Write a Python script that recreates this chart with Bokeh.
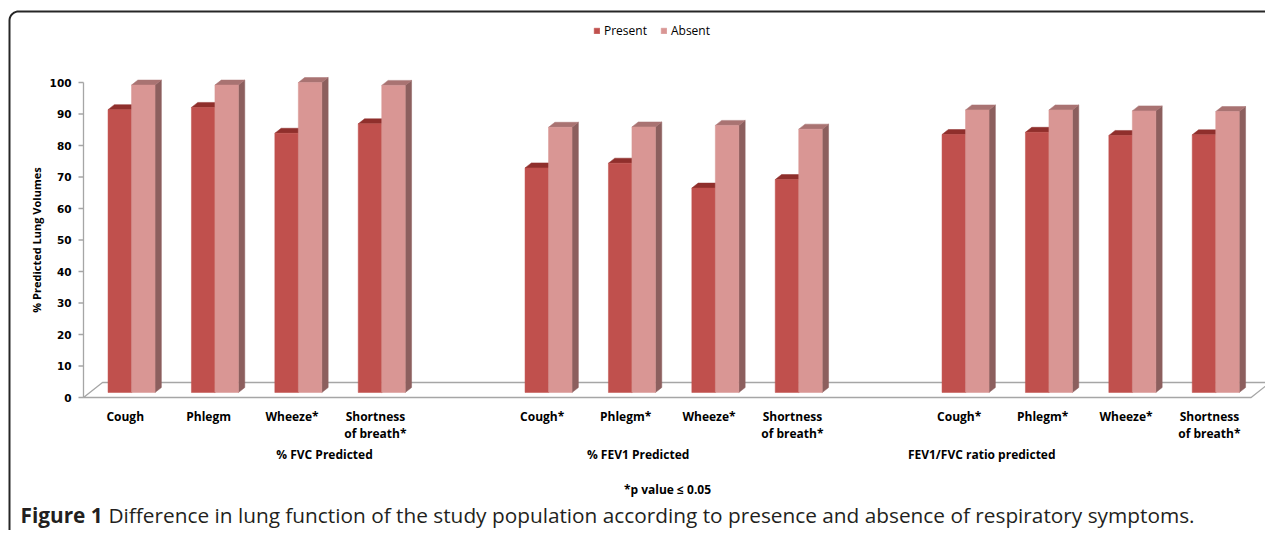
import numpy as np
from bokeh.plotting import figure
from bokeh.models import (Range1d, Legend, LegendItem, ColumnDataSource)
from bokeh.embed import file_html
from bokeh.resources import INLINE
from bokeh.core.properties import value

# ---------------- data ----------------
groups = ["% FVC Predicted", "% FEV1 Predicted", "FEV1/FVC ratio predicted"]
tick_labels = [
    ["Cough", "Phlegm", "Wheeze*", "Shortness\nof breath*"],
    ["Cough*", "Phlegm*", "Wheeze*", "Shortness\nof breath*"],
    ["Cough*", "Phlegm*", "Wheeze*", "Shortness\nof breath*"],
]
present_fvc = [89.8, 90.5, 82.3, 85.3]
absent_fvc = [97.6, 97.6, 98.4, 97.5]
present_fev1 = [71.3, 72.8, 64.9, 67.6]
absent_fev1 = [84.2, 84.3, 84.8, 83.6]
present_ratio = [81.9, 82.6, 81.6, 81.8]
absent_ratio = [89.7, 89.7, 89.4, 89.2]
y_ticks = [0, 10, 20, 30, 40, 50, 60, 70, 80, 90, 100]
y_title = "% Predicted Lung Volumes"
footnote = "*p value \u2264 0.05"
caption_bold = "Figure 1"
caption_rest = ("Difference in lung function of the study population according to "
                "presence and absence of respiratory symptoms.")

present = [present_fvc, present_fev1, present_ratio]
absent = [absent_fvc, absent_fev1, absent_ratio]

# ---------------- layout / geometry (styling) ----------------
W, H = 1265, 530
PX_X = 83.4            # pixels per category slot
PX_Y = 3.15            # pixels per value unit
AX_PX = 83             # pixel column of the value axis
ZERO_PX = 397          # pixel row of value 0
FD_X = 19 / PX_X       # floor depth, x shift
FD_Y = 15 / PX_Y       # floor depth, y shift
BW = 23.5 / PX_X       # bar width
DX, DY = FD_X / 3, FD_Y / 3
N_SLOTS = 14
x_start = -0.5 - AX_PX / PX_X
y_top = ZERO_PX / PX_Y


def px_x(px):
    return x_start + px / PX_X


def px_y(py):
    return y_top - py / PX_Y


p = figure(width=W, height=H, output_backend="svg", toolbar_location=None,
           x_range=Range1d(x_start, x_start + W / PX_X),
           y_range=Range1d(y_top - H / PX_Y, y_top),
           x_axis_location=None, y_axis_location=None,
           min_border_left=0, min_border_right=0,
           min_border_top=0, min_border_bottom=0)
p.xgrid.visible = False
p.ygrid.visible = False
p.outline_line_color = None
p.background_fill_color = "white"
p.border_fill_color = "white"

GRAY = "#A6A6A6"
x_ax = px_x(AX_PX)

# floor
fx = [x_ax, x_ax + N_SLOTS, x_ax + N_SLOTS + FD_X, x_ax + FD_X]
fy = [0, 0, FD_Y, FD_Y]
p.patch(fx + [fx[0]], fy + [fy[0]], fill_color=None, line_color=GRAY, line_width=1.3)

# value axis
p.segment(x0=[x_ax], y0=[0], x1=[x_ax], y1=[max(y_ticks)], line_color=GRAY, line_width=1.3)
p.segment(x0=[px_x(AX_PX - 5)] * len(y_ticks), y0=y_ticks,
          x1=[x_ax] * len(y_ticks), y1=y_ticks, line_color=GRAY, line_width=1.3)
p.text(x=[px_x(AX_PX - 12)] * len(y_ticks), y=y_ticks, text=[str(t) for t in y_ticks],
       text_align="right", text_baseline="middle", text_font=value("DejaVu Sans"),
       text_font_style="bold", text_font_size="10.5px", text_color="#000000")
p.text(x=[px_x(36)], y=[(min(y_ticks) + max(y_ticks)) / 2], text=[y_title], angle=np.pi / 2,
       text_align="center", text_baseline="middle", text_font=value("Open Sans"),
       text_font_style="bold", text_font_size="11px", text_color="#000000")

# bars
slots, p_vals, a_vals, lab1, lab2 = [], [], [], [], []
for g in range(3):
    for k in range(4):
        s = g * 5 + k
        slots.append(s)
        p_vals.append(present[g][k])
        a_vals.append(absent[g][k])
        parts = tick_labels[g][k].split("\n")
        lab1.append(parts[0])
        lab2.append(parts[1] if len(parts) > 1 else "")

renderers = {}
for name, vals, off, cf, ct, cs in [
        ("Present", p_vals, -BW, "#C0504D", "#8F2F2C", "#8F2F2C"),
        ("Absent", a_vals, 0.0, "#D99694", "#A97372", "#8C5F5E")]:
    lefts = [s + off + DX for s in slots]
    rights = [l + BW for l in lefts]
    tops = [DY + v for v in vals]
    txs, tys, sxs, sys_ = [], [], [], []
    for l, r, t in zip(lefts, rights, tops):
        txs.append([l, r, r + DX, l + DX])
        tys.append([t, t, t + DY, t + DY])
        sxs.append([r, r, r + DX, r + DX])
        sys_.append([DY, t, t + DY, 2 * DY])
    p.patches(sxs, sys_, fill_color=cs, line_color=cs, line_width=0.5)
    p.patches(txs, tys, fill_color=ct, line_color=ct, line_width=0.5)
    src = ColumnDataSource(dict(left=lefts, right=rights, bottom=[DY] * len(lefts), top=tops))
    renderers[name] = p.quad(left="left", right="right", bottom="bottom", top="top",
                             source=src, fill_color=cf, line_color=cf, line_width=0.5)

# category labels
lab_style = dict(text_align="center", text_baseline="middle", text_font=value("Open Sans"),
                 text_font_style="bold", text_font_size="12px", text_color="#000000")
p.text(x=slots, y=[px_y(416)] * len(slots), text=lab1, **lab_style)
p.text(x=slots, y=[px_y(433)] * len(slots), text=lab2, **lab_style)

# group labels
group_pos = [2.39, 6.15, 10.27]
p.text(x=group_pos, y=[px_y(454)] * 3, text=groups, **lab_style)

# footnote
p.text(x=[px_x(667)], y=[px_y(489)], text=[footnote], **lab_style)

# caption
cap_style = dict(text_align="left", text_baseline="middle", text_font=value("Open Sans"),
                 text_font_size="20.8px", text_color="#231F20")
p.text(x=[px_x(20)], y=[px_y(514)], text=[caption_bold], text_font_style="bold", **cap_style)
p.text(x=[px_x(108)], y=[px_y(514)], text=[caption_rest], **cap_style)

# rounded frame box (left and top edges)
R = 9
ang = np.linspace(np.pi, np.pi / 2, 12)
bx = [9] + list(9 + R + R * np.cos(ang)) + [1300]
by = [560] + list(11 + R - R * np.sin(ang)) + [11]
p.line([px_x(v) for v in bx], [px_y(v) for v in by], line_color="#262626", line_width=2)

# legend
legend = Legend(items=[LegendItem(label="Present", renderers=[renderers["Present"]]),
                       LegendItem(label="Absent", renderers=[renderers["Absent"]])],
                location=(593, H - 39), orientation="horizontal", padding=0, margin=0,
                spacing=13, label_standoff=4, glyph_width=7, glyph_height=7,
                label_height=12, border_line_color=None, background_fill_alpha=0,
                label_text_font="Open Sans", label_text_font_size="12px",
                label_text_color="#000000", label_text_baseline="middle")
p.add_layout(legend)

open("out.html", "w").write(file_html(p, INLINE))
